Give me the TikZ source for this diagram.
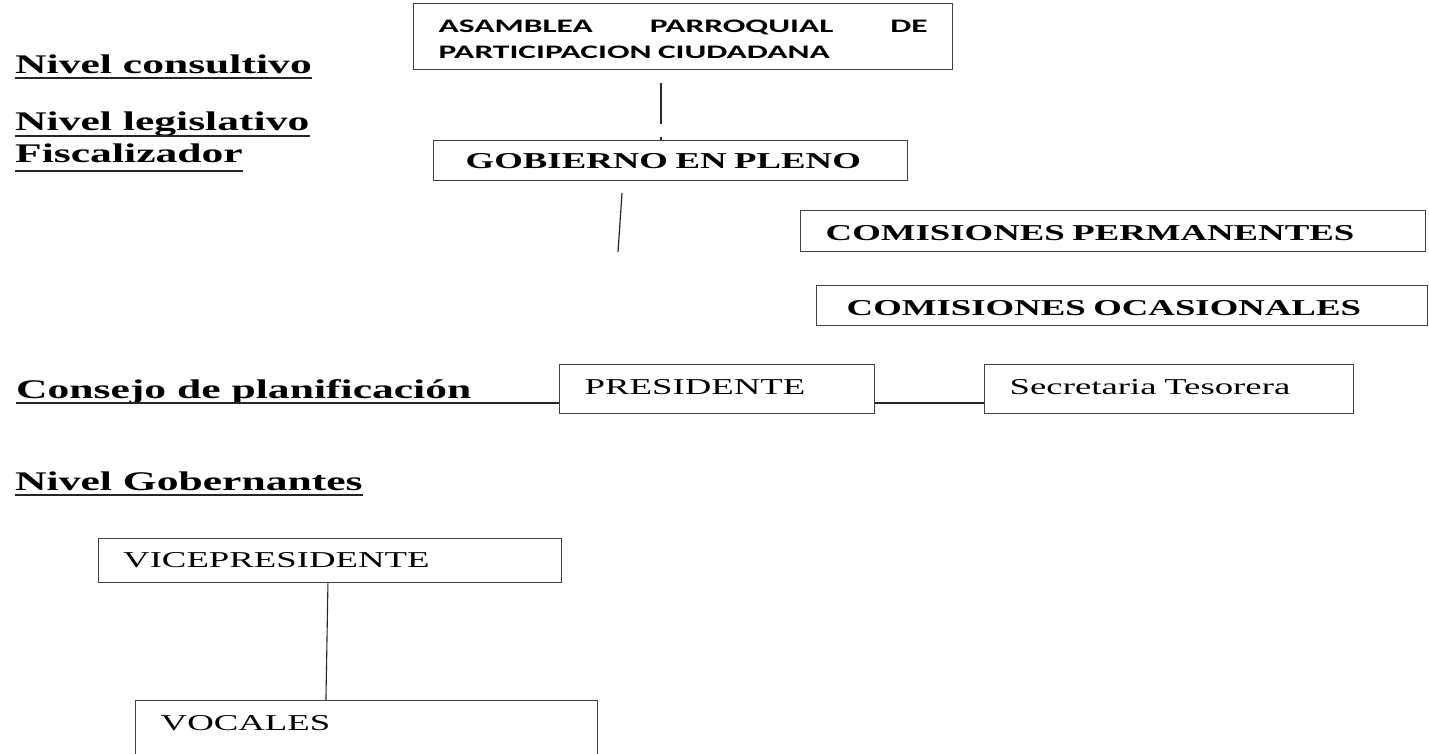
\documentclass[tikz,border=0pt]{standalone}
\usepackage{fontspec}
\setmainfont{Liberation Serif}[FakeStretch=1.62]
\newfontfamily\calibrina{Carlito}[FakeStretch=1.75]
\usetikzlibrary{positioning}
\tikzset{
  caja/.style={draw=black!75, line width=1.4pt, anchor=north west, inner xsep=25pt, inner ysep=0pt,
    align=left, text height=30pt, font=\fontsize{22.7}{27}\selectfont},
  cajanegrita/.style={caja, font=\fontsize{22.7}{27}\selectfont\bfseries},
  nivel/.style={anchor=base west, inner sep=0pt, font=\fontsize{26.9}{30}\selectfont\bfseries},
  linea/.style={black!85, line width=1.6pt},
}
\begin{document}
\begin{tikzpicture}[x=1pt,y=-1pt]
\useasboundingbox (0,0) rectangle (1429,753);
\clip (0,0) rectangle (1429,753);

\node[nivel] (consultivo) at (15,73) {Nivel consultivo};
\node[nivel] (legislativo) at (15,130) {Nivel legislativo};
\node[nivel] (fiscalizador) at (15,162) {Fiscalizador};
\node[nivel] (consejo) at (16,398) {Consejo de planificación};
\node[nivel] (gobernantes) at (15,490) {Nivel Gobernantes};
\foreach \n/\d in {consultivo/5, legislativo/6, fiscalizador/9, gobernantes/5}
  \draw[linea, line width=1.8pt] ([yshift=-\d pt]\n.base west) -- ([yshift=-\d pt]\n.base east);

\node[caja, text width=489pt, text height=29pt, text depth=37pt,
  font=\calibrina\fontsize{19.1}{26}\selectfont\bfseries] (asamblea) at (413,3)
  {ASAMBLEA\hfill PARROQUIAL\hfill DE\\PARTICIPACION CIUDADANA};
\node[cajanegrita, inner xsep=32pt, text width=410pt, text height=28pt, text depth=12pt] (gobierno) at (433,140) {GOBIERNO EN PLENO};
\node[cajanegrita, text width=575pt, text depth=11pt] (permanentes) at (800,210) {COMISIONES PERMANENTES};
\node[cajanegrita, inner xsep=30pt, text width=551pt, text depth=10pt] (ocasionales) at (816,285) {COMISIONES OCASIONALES};
\node[caja, text width=265pt, text depth=19pt] (presidente) at (559,364) {PRESIDENTE};
\node[caja, text width=319pt, text depth=19pt] (secretaria) at (984,364) {Secretaria Tesorera};
\node[caja, text width=413.5pt, text height=29pt, text depth=15pt] (vice) at (97.5,538) {VICEPRESIDENTE};
\node[caja, text width=412pt, text depth=70pt] (vocales) at (135,700) {VOCALES};

\coordinate (a1) at (661,83);
\coordinate (a2) at (661,124);
\draw[linea, line width=1.2pt] (a1) -- (a2);
\draw[linea, line width=1.2pt] (a2) ++(0,13) -- ++(0,3);
\coordinate (g1) at (622,193);
\coordinate (g2) at (618,252);
\draw[linea, line width=1.2pt] (g1) -- (g2);

\draw[linea] (consejo.base west) ++(0,5) coordinate (enlace) -- (enlace -| presidente.west);
\draw[linea] (enlace -| presidente.east) -- (enlace -| secretaria.west);
\draw[linea, line width=1.1pt] ([xshift=-2pt]vice.south) -- ([xshift=-4pt]vice.south |- vocales.north);
\end{tikzpicture}
\end{document}
